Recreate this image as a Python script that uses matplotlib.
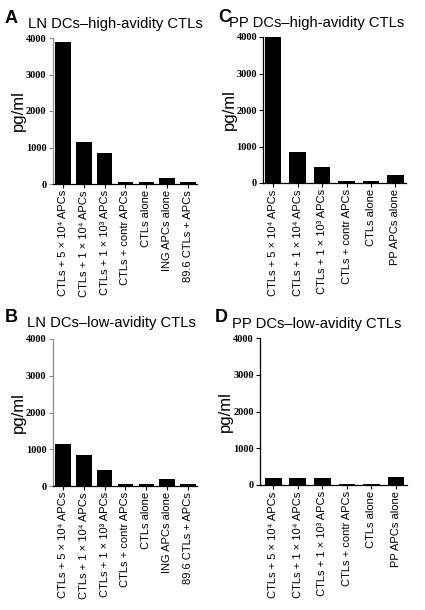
import matplotlib.pyplot as plt

W, H = 425, 610

labels_ln = ['CTLs + 5 × 10⁴ APCs', 'CTLs + 1 × 10⁴ APCs', 'CTLs + 1 × 10³ APCs',
             'CTLs + contr APCs', 'CTLs alone', 'ING APCs alone', '89.6 CTLs + APCs']
labels_pp = ['CTLs + 5 × 10⁴ APCs', 'CTLs + 1 × 10⁴ APCs', 'CTLs + 1 × 10³ APCs',
             'CTLs + contr APCs', 'CTLs alone', 'PP APCs alone']

vals_a = [3890, 1160, 840, 50, 50, 165, 45]
vals_b = [1150, 850, 430, 50, 45, 185, 45]
vals_c = [4000, 855, 445, 55, 50, 228]
vals_d = [190, 190, 182, 40, 40, 225]

yticks = [0, 1000, 2000, 3000, 4000]

sans = ['Liberation Sans', 'DejaVu Sans']

fig = plt.figure(figsize=(W / 100, H / 100), dpi=100)


def px_axes(x0, x1, y_top, y_bot):
    return fig.add_axes([x0 / W, 1 - y_bot / H, (x1 - x0) / W, (y_bot - y_top) / H])


def panel(ax, labels, vals, xlim, width, spine_col):
    x = list(range(len(vals)))
    ax.bar(x, vals, width=width, color='black')
    ax.set_xlim(*xlim)
    ax.set_ylim(0, 4000)
    ax.set_yticks(yticks)
    ax.set_yticklabels([str(t) for t in yticks], family='Liberation Serif',
                       fontweight='bold', fontsize=7.5)
    ax.set_xticks(x)
    ax.set_xticklabels(labels, rotation=90, family=sans, fontsize=8)
    ax.tick_params(axis='both', length=3, width=0.8, pad=1.5)
    ax.tick_params(axis='y', colors=spine_col, labelcolor='black')
    ax.spines['top'].set_visible(False)
    ax.spines['right'].set_visible(False)
    ax.spines['left'].set_color(spine_col)
    ax.spines['left'].set_linewidth(0.9)
    ax.spines['bottom'].set_linewidth(0.9)
    ax.set_ylabel('pg/ml', family=sans, fontsize=12, labelpad=0)


ax_a = px_axes(52.7, 197, 38, 184)
panel(ax_a, labels_ln, vals_a, (-0.5, 6.44), 0.74, '#8c8c8c')

ax_b = px_axes(52.7, 197, 339, 486)
panel(ax_b, labels_ln, vals_b, (-0.5, 6.44), 0.74, '#8c8c8c')

ax_c = px_axes(263.3, 406, 37, 183)
panel(ax_c, labels_pp, vals_c, (-0.4, 5.43), 0.66, 'black')

ax_d = px_axes(260, 406.7, 338, 485)
panel(ax_d, labels_pp, vals_d, (-0.54, 5.44), 0.68, 'black')

# panel letters and titles: (letter x, letter baseline, title x, title baseline)
heads = [
    (5, 23, 28, 28, 'A', 'LN DCs–high-avidity CTLs'),
    (5, 322, 27, 327, 'B', 'LN DCs–low-avidity CTLs'),
    (218, 22, 229, 27, 'C', 'PP DCs–high-avidity CTLs'),
    (215, 322, 232, 328, 'D', 'PP DCs–low-avidity CTLs'),
]
for lx, ly, tx, ty, letter, title in heads:
    fig.text(lx / W, 1 - ly / H, letter, family=sans, fontsize=13,
             fontweight='bold', va='baseline', ha='left')
    fig.text(tx / W, 1 - ty / H, title, family=sans, fontsize=10.6,
             va='baseline', ha='left')

fig.savefig('out.png', dpi=100)
